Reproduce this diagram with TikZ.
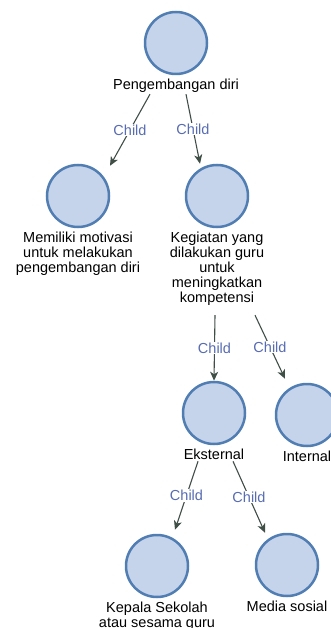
\documentclass[tikz,border=0pt]{standalone}
\usepackage{fontspec}
\setmainfont{Liberation Sans}
\usetikzlibrary{positioning,arrows.meta,calc}
\definecolor{topicfill}{RGB}{198,212,235}
\definecolor{topicline}{RGB}{80,125,178}
\definecolor{childtext}{RGB}{88,108,178}
\definecolor{linkline}{RGB}{64,78,72}

\begin{document}
\begin{tikzpicture}[x=1pt,y=-1pt,>={Stealth[length=9pt,width=8pt,inset=2.5pt]},
  topic/.style={circle,draw=topicline,fill=topicfill,line width=2.5pt,minimum size=62pt,inner sep=0pt},
  caption/.style={font=\fontsize{14.5}{15}\selectfont,align=center,inner sep=1pt},
  link/.style={->,draw=linkline,line width=1.1pt},
  childtag/.style={font=\fontsize{14.5}{15}\selectfont,text=childtext,fill=white,inner sep=1pt}]
\useasboundingbox (0,0) rectangle (331,628);

\node[topic] (root) at (176,43) {};
\node[caption,below=3pt of root] (rootlab) {Pengembangan diri};

\node[topic] (motiv) at (78,196) {};
\node[caption,below=3pt of motiv] (motivlab) {Memiliki motivasi\\untuk melakukan\\pengembangan diri};

\node[topic] (kegiat) at (217,196) {};
\node[caption,below=3pt of kegiat] (kegiatlab) {Kegiatan yang\\dilakukan guru\\untuk\\meningkatkan\\kompetensi};

\node[topic] (eks) at (214,413) {};
\node[caption,below=3pt of eks] (ekslab) {Eksternal};

\node[topic] (intl) at (307,415) {};
\node[caption,below=3pt of intl] (intllab) {Internal};

\node[topic] (kepala) at (157,566) {};
\node[caption,below=3pt of kepala] (kepalalab) {Kepala Sekolah\\atau sesama guru};

\node[topic] (medsos) at (287,565) {};
\node[caption,below=3pt of medsos] (medsoslab) {Media sosial};

\draw[link] ([xshift=-26pt]rootlab.south) -- ([xshift=32pt,yshift=-2pt]motiv.north) node[midway,childtag] {Child};
\draw[link] ([xshift=10pt]rootlab.south) -- ([xshift=-17pt]kegiat.north) node[midway,childtag] {Child};
\draw[link] ([xshift=-2pt,yshift=-8pt]kegiatlab.south) -- (eks.north) node[midway,childtag] {Child};
\draw[link] ([xshift=38pt,yshift=-8pt]kegiatlab.south) -- ([xshift=-22pt,yshift=4pt]intl.north) node[midway,childtag] {Child};
\draw[link] ([xshift=-16pt]ekslab.south) -- ([xshift=18pt,yshift=4pt]kepala.north) node[midway,childtag] {Child};
\draw[link] ([xshift=19pt]ekslab.south) -- ([xshift=-22pt]medsos.north) node[midway,childtag] {Child};
\end{tikzpicture}
\end{document}
